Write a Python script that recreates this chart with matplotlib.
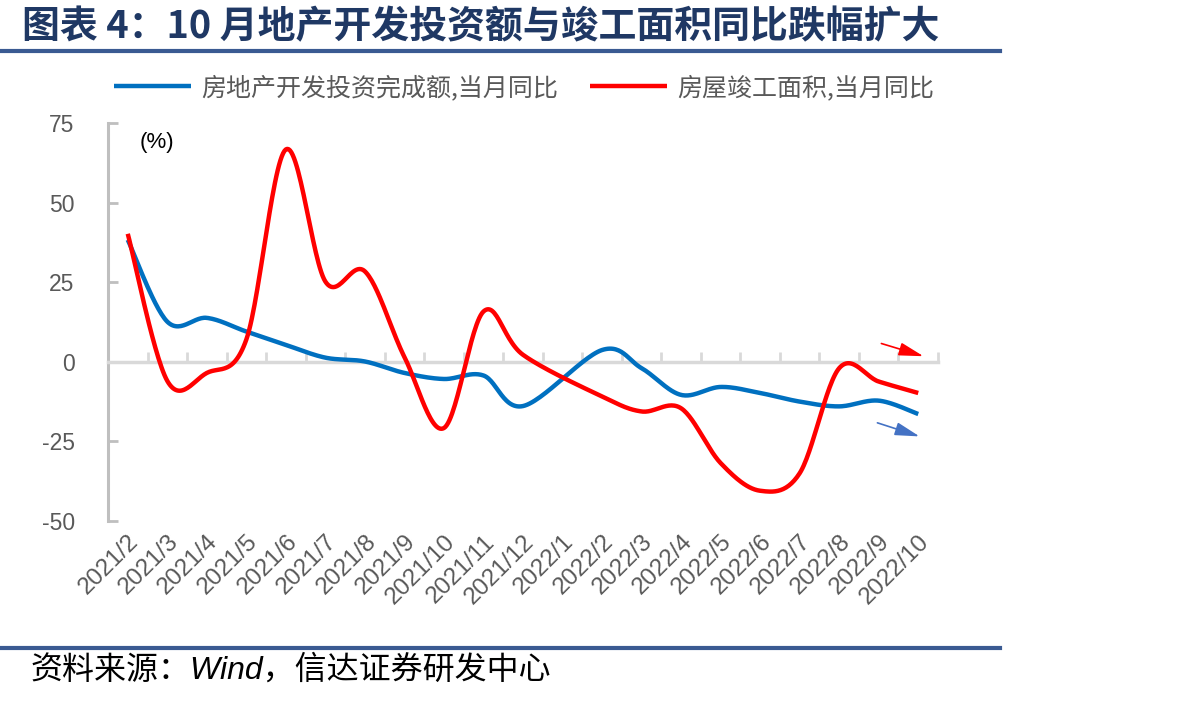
import numpy as np
import matplotlib
matplotlib.use("Agg")
import matplotlib.pyplot as plt

plt.rcParams['font.family'] = ['Noto Sans CJK SC', 'DejaVu Sans']

# ── 数据 ──────────────────────────────────────────────────────────────────────
months = ["2021/2", "2021/3", "2021/4", "2021/5", "2021/6", "2021/7", "2021/8",
          "2021/9", "2021/10", "2021/11", "2021/12", "2022/1", "2022/2", "2022/3",
          "2022/4", "2022/5", "2022/6", "2022/7", "2022/8", "2022/9", "2022/10"]
# 房地产开发投资完成额, 当月同比 (%)  -- 2022/1 无单月数据
invest_yoy = [38.3, 12.6, 13.8, 9.5, 5.3, 1.3, 0.1, -3.5, -5.4, -4.3, -13.9,
              np.nan, 3.7, -2.0, -10.4, -7.9, -9.8, -12.5, -14.0, -12.2, -16.4]
# 房屋竣工面积, 当月同比 (%)
complete_yoy = [40.2, -6.0, -3.5, 7.0, 66.7, 25.2, 28.4, 1.5, -20.8, 15.8, 2.2,
                np.nan, -10.9, -15.6, -14.6, -31.8, -40.5, -35.0, -2.0, -6.2, -9.8]

labels = ["房地产开发投资完成额,当月同比", "房屋竣工面积,当月同比"]
yticks = [-50, -25, 0, 25, 50, 75]

BLUE = "#0070C0"
RED = "#FF0000"
GRAY_TXT = "#595959"
NAVY = "#1F3864"
LATIN = ["Liberation Sans", "Noto Sans CJK SC"]


def smooth(xs, ys, n=30):
    """Excel 风格的平滑曲线 (Catmull-Rom -> Bezier), 跳过缺失值"""
    xs = np.asarray(xs, float)
    ys = np.asarray(ys, float)
    ok = ~np.isnan(ys)
    p = np.column_stack([xs[ok], ys[ok]])
    out = []
    t = np.linspace(0, 1, n)[:, None]
    for i in range(len(p) - 1):
        p0 = p[i - 1] if i > 0 else p[i]
        p1, p2 = p[i], p[i + 1]
        p3 = p[i + 2] if i + 2 < len(p) else p[i + 1]
        c1 = p1 + (p2 - p0) / 6
        c2 = p2 - (p3 - p1) / 6
        seg = ((1 - t) ** 3) * p1 + 3 * ((1 - t) ** 2) * t * c1 \
            + 3 * (1 - t) * t ** 2 * c2 + t ** 3 * p2
        out.append(seg if i == 0 else seg[1:])
    seg = np.vstack(out)
    return seg[:, 0], seg[:, 1]


fig = plt.figure(figsize=(11.88, 7.03), dpi=100)
ax = fig.add_axes([108 / 1188, 1 - 521 / 703, 830 / 1188, 398 / 703])

x = np.arange(len(months))
for vals, color, lab in [(invest_yoy, BLUE, labels[0]), (complete_yoy, RED, labels[1])]:
    sx, sy = smooth(x, vals)
    ax.plot(sx, sy, color=color, lw=3.2, label=lab, solid_capstyle="butt", zorder=3)

ax.set_xlim(-0.5, len(months) - 0.5)
ax.set_ylim(-50, 75)
ax.set_yticks(yticks)
ax.set_yticklabels([str(v) for v in yticks], family=LATIN)
ax.tick_params(axis="y", direction="in", length=7, width=2, color="#BFBFBF",
               labelsize=16.5, labelcolor=GRAY_TXT, pad=24)

for s in ["top", "right"]:
    ax.spines[s].set_visible(False)
ax.spines["left"].set_color("#BFBFBF")
ax.spines["left"].set_linewidth(2.2)

# 零轴 + 分类边界刻度
ax.spines["bottom"].set_position(("data", 0))
ax.spines["bottom"].set_color("#D9D9D9")
ax.spines["bottom"].set_linewidth(2.5)
ax.set_xticks(np.arange(len(months) + 1) - 0.5)
ax.set_xticklabels([])
ax.tick_params(axis="x", direction="in", length=7, width=2, color="#D9D9D9")

sec = ax.secondary_xaxis(0.0)
sec.set_xticks(x)
sec.set_xticklabels(months, rotation=45, ha="right", rotation_mode="anchor",
                    fontsize=17.5, color=GRAY_TXT, family=LATIN)
sec.tick_params(length=0, pad=7)
sec.spines["bottom"].set_visible(False)

ax.text(0.038, 0.95, "(%)", transform=ax.transAxes, fontsize=16, color="black",
        va="center", ha="left", family=LATIN)

# 箭头
ax.annotate("", xy=(20.2, 1.5), xytext=(19.0, 6.0),
            arrowprops=dict(arrowstyle="-|>,head_length=1.5,head_width=0.4",
                            color=RED, lw=1.2))
ax.annotate("", xy=(20.1, -23.7), xytext=(18.9, -18.9),
            arrowprops=dict(arrowstyle="-|>,head_length=1.5,head_width=0.4",
                            color="#4472C4", lw=1.2))

fig.legend(loc="center", bbox_to_anchor=(0.441, 1 - 88 / 703), ncol=2,
           frameon=False, fontsize=18, handlelength=3.1, columnspacing=1.25,
           handletextpad=0.4, labelcolor=GRAY_TXT)

# 标题与来源
fig.text(22 / 1188, 1 - 27 / 703, "图表 4：10 月地产开发投资额与竣工面积同比跌幅扩大",
         fontsize=27.3, fontweight="bold", color=NAVY, va="center", ha="left")
fig.add_artist(plt.Line2D([0, 1000 / 1188], [1 - 51 / 703] * 2, color="#3A5A92", lw=3))
fig.add_artist(plt.Line2D([0, 1000 / 1188], [1 - 648 / 703] * 2, color="#3A5A92", lw=3))
fig.text(30 / 1188, 1 - 670 / 703, "资料来源：Wind，信达证券研发中心",
         fontsize=23, color="black", va="center", ha="left", style="italic",
         family=LATIN)

fig.savefig("out.png", dpi=100)
